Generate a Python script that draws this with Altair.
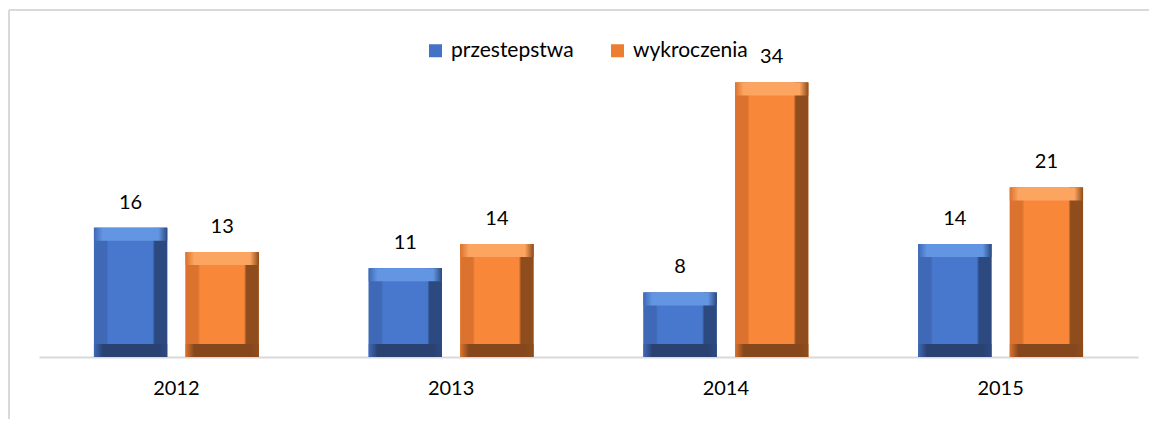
import altair as alt
import pandas as pd

# ---- data ----
years = ["2012", "2013", "2014", "2015"]
series = ["przestepstwa", "wykroczenia"]
przestepstwa = [16, 11, 8, 14]
wykroczenia = [13, 14, 34, 21]

rows = []
for i, y in enumerate(years):
    rows.append({"rok": y, "seria": series[0], "wartosc": przestepstwa[i]})
    rows.append({"rok": y, "seria": series[1], "wartosc": wykroczenia[i]})
df = pd.DataFrame(rows)

# ---- styling ----
FONT = "Lato"
legend_colors = ["#4472C4", "#ED7D31"]
shades = {
    "przestepstwa": dict(main="#4878CD", left="#3F69B6", right="#2C4A80",
                         top="#6296E2", bottom="#2A4272"),
    "wykroczenia": dict(main="#F8873A", left="#DB732E", right="#8F4D1D",
                        top="#FCA561", bottom="#85471B"),
}
BEVEL = 13


def hgrad(stops):
    return alt.Gradient(
        gradient="linear", x1=0, x2=1, y1=0, y2=0,
        stops=[alt.GradientStop(color=c, offset=o) for o, c in stops],
    )


x_enc = alt.X(
    "rok:N", sort=years, title=None,
    scale=alt.Scale(paddingInner=0, paddingOuter=0),
    axis=alt.Axis(labelAngle=0, ticks=False, domainColor="#D9D9D9",
                  domainWidth=2, labelFont=FONT, labelFontSize=20,
                  labelColor="#000000", labelPadding=21, grid=False),
)
xo_enc = alt.XOffset(
    "seria:N", scale=alt.Scale(domain=series, paddingInner=0.2, paddingOuter=0.6)
)
y_enc = alt.Y("wartosc:Q", stack=None, axis=None,
              scale=alt.Scale(domain=[0, 40], nice=False))

base = alt.Chart(df).encode(x=x_enc, xOffset=xo_enc, y=y_enc)

flat = base.mark_bar().encode(
    color=alt.Color(
        "seria:N",
        scale=alt.Scale(domain=series, range=legend_colors),
        legend=alt.Legend(
            title=None, orient="none", direction="horizontal",
            legendX=386, legendY=6, symbolType="square", symbolSize=169,
            symbolStrokeWidth=0, labelFont=FONT, labelFontSize=21,
            labelColor="#000000", labelOffset=5, columnPadding=33, padding=0,
        ),
    )
)

layers = [flat]
for s in series:
    c = shades[s]
    sub = base.transform_filter(alt.datum.seria == s)
    body = sub.mark_bar(
        fill=hgrad([(0, c["left"]), (0.17, c["left"]), (0.2, c["main"]),
                    (0.8, c["main"]), (0.83, c["right"]), (1, c["right"])])
    )
    top = sub.mark_bar(
        y2Offset=BEVEL,
        fill=hgrad([(0, c["left"]), (0.12, c["top"]), (0.88, c["top"]),
                    (1, c["right"])]),
    ).encode(y2=alt.Y2("wartosc:Q"))
    bottom = sub.transform_calculate(zero="0").mark_bar(
        yOffset=-BEVEL,
        fill=hgrad([(0, c["left"]), (0.12, c["bottom"]), (0.88, c["bottom"]),
                    (1, c["right"])]),
    ).encode(y=alt.Y("zero:Q", stack=None, axis=None,
                     scale=alt.Scale(domain=[0, 40], nice=False)),
             y2=alt.Y2("zero:Q"))
    layers += [body, top, bottom]

labels = base.mark_text(
    dy=-19, baseline="alphabetic", align="center", font=FONT, fontSize=20,
    color="#000000",
).encode(text="wartosc:Q")
layers.append(labels)

one = alt.Chart(pd.DataFrame({"k": [0]}))
border_left = one.mark_rule(color="#D9D9D9", strokeWidth=2).encode(
    x=alt.value(-30), y=alt.value(-24), y2=alt.value(400))
border_top = one.mark_rule(color="#D9D9D9", strokeWidth=2).encode(
    x=alt.value(-30), x2=alt.value(1130), y=alt.value(-24))
layers += [border_left, border_top]

chart = alt.layer(*layers).properties(
    width=1099, height=323,
    autosize=alt.AutoSizeParams(type="none"),
    padding={"left": 31, "top": 26, "right": 11, "bottom": 62},
    background="#FFFFFF",
).configure_view(stroke=None)

chart.save("out.html", embed_options={"renderer": "svg", "actions": False})
